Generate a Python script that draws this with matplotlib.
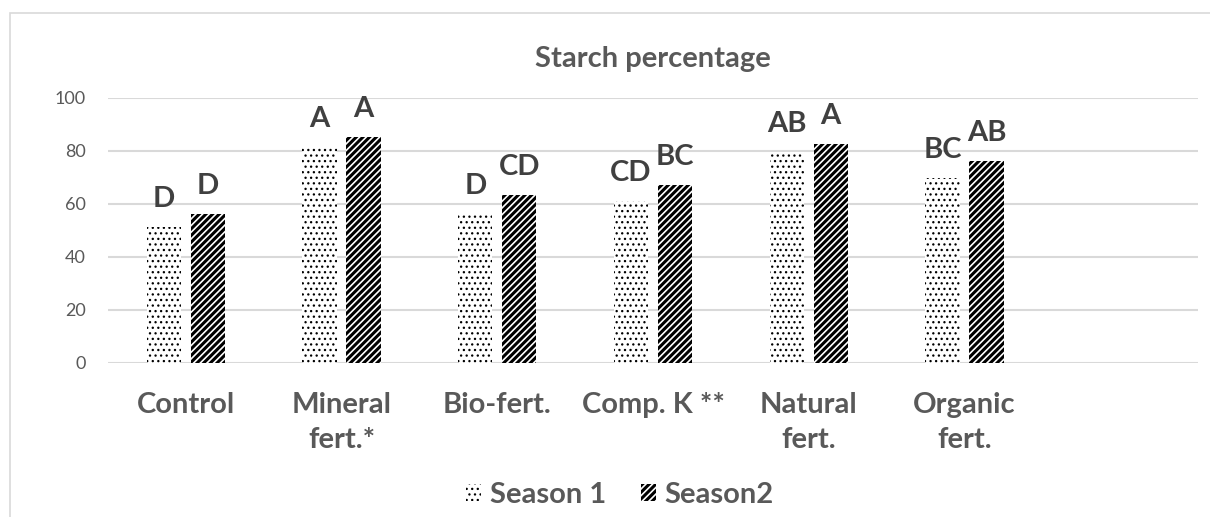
import numpy as np
import matplotlib.pyplot as plt
from matplotlib.patches import Rectangle

# Starch percentage for the two seasons
categories = ['Control', 'Mineral\nfert.*', 'Bio-fert.', 'Comp. K **', 'Natural\nfert.', 'Organic\nfert.']
season1 = [51.3, 81.3, 56.1, 61.1, 79.6, 69.6]
season2 = [56.1, 85.3, 63.3, 67.1, 82.4, 76.1]
letters1 = ['D', 'A', 'D', 'CD', 'AB', 'BC']
letters2 = ['D', 'A', 'CD', 'BC', 'A', 'AB']
yticks = [0, 20, 40, 60, 80, 100]

plt.rcParams['font.family'] = ['Lato', 'DejaVu Sans']

W, H = 1210, 517
fig = plt.figure(figsize=(W / 100, H / 100), dpi=100)
ax = fig.add_axes([108 / W, 1 - 362.7 / H, 1090 / W, 265 / H])

x = np.arange(len(categories))
width = 0.22
off = 0.1415
lw_dots, lw_stripes = 0.9, 2.2

# dotted bars (season 1), striped bars (season 2)
b1 = ax.bar(x - off, season1, width, color='white', edgecolor='black',
            linewidth=0, hatch='...', label='Season 1', zorder=3)
b2 = ax.bar(x + off, season2, width, color='white', edgecolor='black',
            linewidth=0, hatch='/////', label='Season2', zorder=3)
for p in b1:
    p.set_hatch_linewidth(lw_dots)
for p in b2:
    p.set_hatch_linewidth(lw_stripes)

# significance letters above bars
for xi, v, t in zip(x - off, season1, letters1):
    ax.annotate(t, (xi, v), xytext=(0, 14.5), textcoords='offset points',
                ha='center', va='baseline', fontsize=21, fontweight='bold', color='#404040')
for xi, v, t in zip(x + off, season2, letters2):
    ax.annotate(t, (xi, v), xytext=(0, 14.5), textcoords='offset points',
                ha='center', va='baseline', fontsize=21, fontweight='bold', color='#404040')

ax.set_xlim(-0.5, 6.5)
ax.set_ylim(0, 100)
ax.set_yticks(yticks)
ax.set_yticklabels([str(v) for v in yticks], fontsize=13, color='#595959')
ax.set_xticks(x)
ax.set_xticklabels(categories, fontsize=21, fontweight='bold', color='#595959',
                   linespacing=1.42, va='top')
ax.tick_params(axis='both', length=0)
ax.tick_params(axis='y', pad=16)
ax.tick_params(axis='x', pad=21)
ax.grid(axis='y', color='#d9d9d9', linewidth=1.5, zorder=0)
for s in ax.spines.values():
    s.set_visible(False)

ax.set_title('Starch percentage', fontsize=21, fontweight='bold', color='#595959', pad=22)

leg = fig.legend(handles=[b1, b2], loc='center', bbox_to_anchor=(620 / W, 1 - 495 / H),
                 ncol=2, frameon=False, prop={'size': 21, 'weight': 'bold'},
                 handlelength=0.5, handleheight=0.5, handletextpad=0.3, columnspacing=1.2)
for t in leg.get_texts():
    t.set_color('#595959')
leg.legend_handles[0].set_hatch_linewidth(lw_dots)
leg.legend_handles[1].set_hatch_linewidth(lw_stripes)

# chart area border
fig.add_artist(Rectangle((10 / W, -0.5), 2, 1 - 13 / H + 0.5, transform=fig.transFigure,
                         fill=False, edgecolor='#d9d9d9', linewidth=1.2))

fig.savefig('out.png', dpi=100)
